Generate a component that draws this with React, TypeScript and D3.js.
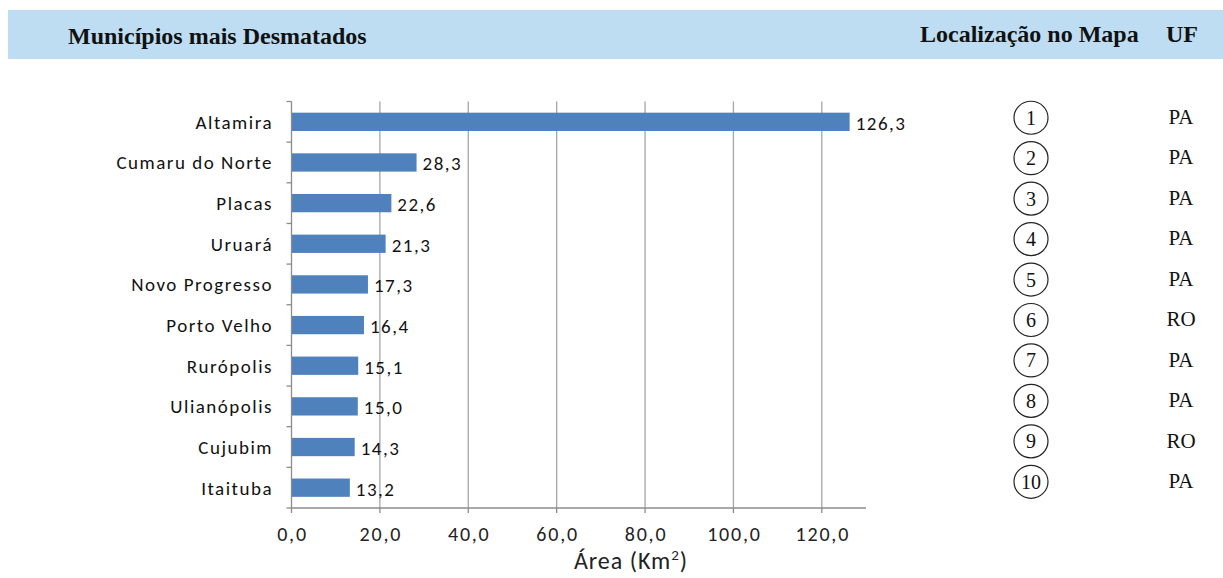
import React from "react";
import * as d3 from "d3";

const municipios = ["Altamira", "Cumaru do Norte", "Placas", "Uruará", "Novo Progresso", "Porto Velho", "Rurópolis", "Ulianópolis", "Cujubim", "Itaituba"];
const areas = [126.3, 28.3, 22.6, 21.3, 17.3, 16.4, 15.1, 15.0, 14.3, 13.2];
const ufs = ["PA", "PA", "PA", "PA", "PA", "RO", "PA", "PA", "RO", "PA"];
const mapNumbers = [1, 2, 3, 4, 5, 6, 7, 8, 9, 10];
const xTicks = [0, 20, 40, 60, 80, 100, 120];

const W = 1223, H = 578;
const plotLeft = 291.5, plotRight = 866, plotTop = 101.5, plotBottom = 508;
const sans = "Carlito, Lato, 'Open Sans', sans-serif";
const serif = "'Liberation Serif', 'DejaVu Serif', serif";

const fmt = (v: number) => v.toFixed(1).replace(".", ",");

export default function App() {
  const x = d3.scaleLinear().domain([0, 130]).range([plotLeft, plotRight]);
  const y = d3.scaleBand<string>().domain(municipios).range([plotTop, plotBottom]).paddingInner(0.55).paddingOuter(0.275);
  const rows = d3.scaleBand<string>().domain(municipios).range([plotTop - 4, plotBottom - 6]);
  const bounds = d3.range(municipios.length + 1).map((i) => plotTop + (i * (plotBottom - plotTop)) / municipios.length);

  return (
    <svg width={W} height={H} style={{ position: "absolute", left: 0, top: 0, background: "#fff" }}>
      <rect x={8} y={10} width={W - 8} height={49} fill="#BEDDF2" />
      <text x={68} y={44} fontFamily={serif} fontWeight="bold" fontSize={24} fill="#111">Municípios mais Desmatados</text>
      <text x={920} y={42} fontFamily={serif} fontWeight="bold" fontSize={24} fill="#111">Localização no Mapa</text>
      <text x={1166} y={42} fontFamily={serif} fontWeight="bold" fontSize={24} fill="#111">UF</text>

      {xTicks.filter((t) => t > 0).map((t) => (
        <line key={"g" + t} x1={x(t)} x2={x(t)} y1={plotTop} y2={plotBottom} stroke="#A6A6A6" strokeWidth={1.3} />
      ))}
      {municipios.map((m, i) => (
        <rect key={m} x={x(0)} y={y(m)} width={x(areas[i]) - x(0)} height={y.bandwidth()} fill="#4F81BD" />
      ))}
      <line x1={plotLeft} x2={plotLeft} y1={plotTop} y2={plotBottom} stroke="#8C8C8C" strokeWidth={1.3} />
      {bounds.map((b, i) => (
        <line key={"yt" + i} x1={plotLeft - 5} x2={plotLeft} y1={b} y2={b} stroke="#8C8C8C" strokeWidth={1.3} />
      ))}
      <line x1={plotLeft} x2={plotRight} y1={plotBottom} y2={plotBottom} stroke="#8C8C8C" strokeWidth={1.3} />
      {xTicks.map((t) => (
        <g key={"xt" + t}>
          <line x1={x(t)} x2={x(t)} y1={plotBottom} y2={plotBottom + 5} stroke="#8C8C8C" strokeWidth={1.3} />
          <text x={x(t) + 1} y={541} textAnchor="middle" fontFamily={sans} fontSize={20} letterSpacing={1.8} fill="#222">{fmt(t)}</text>
        </g>
      ))}
      <text x={631} y={569} textAnchor="middle" fontFamily={sans} fontSize={24} letterSpacing={1} fill="#222">
        Área (Km<tspan dy={-9} fontSize={15}>2</tspan><tspan dy={9}>)</tspan>
      </text>

      {municipios.map((m, i) => (
        <g key={"l" + m}>
          <text x={273} y={(y(m) as number) + y.bandwidth() / 2} dy="0.36em" textAnchor="end" fontFamily={sans} fontSize={19} letterSpacing={1.5} fill="#111">{m}</text>
          <text x={x(areas[i]) + 6} y={(y(m) as number) + y.bandwidth() / 2} dy="0.42em" fontFamily={sans} fontSize={19} letterSpacing={1.5} fill="#111">{fmt(areas[i])}</text>
        </g>
      ))}

      {mapNumbers.map((n, i) => {
        const cy = (rows(municipios[i]) as number) + rows.bandwidth() / 2;
        return (
          <g key={"c" + n}>
            <ellipse cx={1031} cy={cy} rx={17} ry={16.5} fill="none" stroke="#222" strokeWidth={1.2} />
            <text x={1031} y={cy} dy="0.35em" textAnchor="middle" fontFamily={serif} fontSize={20} fill="#111">{n}</text>
            <text x={1181} y={cy} dy="0.3em" textAnchor="middle" fontFamily={serif} fontSize={21} fill="#111">{ufs[i]}</text>
          </g>
        );
      })}
    </svg>
  );
}
